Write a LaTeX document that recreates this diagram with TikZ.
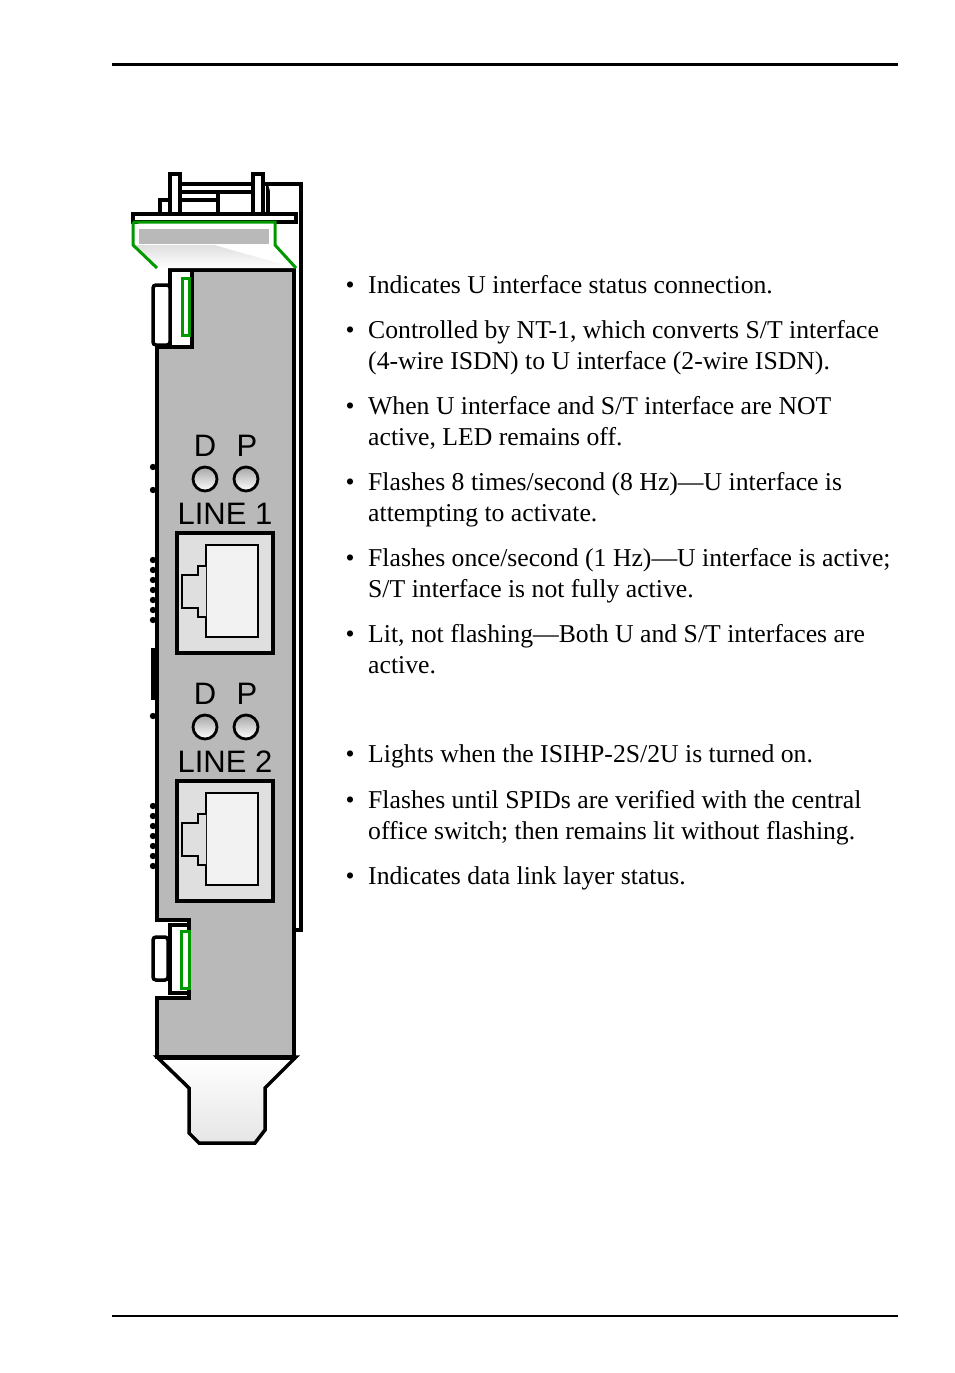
\documentclass[tikz,border=0pt]{standalone}
\usepackage{fontspec}
\setmainfont{Liberation Serif}
\newfontfamily\hv{Liberation Sans}
\begin{document}
\begin{tikzpicture}[x=1pt,y=-1pt,
  txt/.style={anchor=base west,inner sep=0pt,font=\fontsize{25.7}{28}\selectfont},
  bul/.style={anchor=base,inner sep=0pt,font=\fontsize{25.7}{28}\selectfont},
  lbl/.style={inner sep=0pt,font=\hv\fontsize{31}{32}\selectfont},
  ol/.style={draw=black,line width=3.5pt},
  grn/.style={draw=green!60!black,line width=3pt}]
\useasboundingbox (0,0) rectangle (954,1373);
\draw[line width=3pt] (112,64) -- (898,64);
\draw[line width=2pt] (112,1316) -- (898,1316);
% posts and top hardware
\draw[ol,fill=white] (218,184) rectangle (268,214);
\draw[ol,fill=white] (180,184) -- (253,184) -- (253,192) -- (180,192);
\draw[ol,fill=white] (160,200) rectangle (218,214);
\draw[ol,fill=white] (170,174) rectangle (180,214);
\draw[ol,fill=white] (253,174) rectangle (263,214);
% right strip
\draw[ol,fill=white] (268,184) -- (301,184) -- (301,930) -- (293,930) -- (293,270);
% gray board
\draw[ol,fill=gray!55] (192,270) -- (294,270) -- (294,1057) -- (157,1057) -- (157,998) -- (189,998) -- (189,920) -- (157,920) -- (157,347) -- (192,347) -- cycle;
% top connector
\draw[ol,fill=white] (170,270) rectangle (192,347);
\draw[ol,fill=white,rounded corners=3pt] (153,285) rectangle (170,345);
\draw[grn,fill=white] (182,278) rectangle (189,335);
% bottom connector
\draw[ol,fill=white] (170,925) rectangle (189,993);
\draw[ol,fill=white,rounded corners=3pt] (153,937) rectangle (168,980);
\draw[grn,fill=white] (181,931) rectangle (189,988);
% top flange
\draw[ol,fill=white] (133,214) rectangle (296,222);
\shade[top color=gray!25,bottom color=white] (133,245) -- (275,245) -- (296,268) -- (157,268) -- cycle;
\draw[grn,fill=white] (133,222) -- (275,222) -- (275,245) -- (296,268);
\draw[grn] (133,222) -- (133,245) -- (157,268);
\fill[gray!55] (139,229) rectangle (269,244);
% bottom flange
\shade[top color=white,bottom color=gray!20,draw=black,line width=3.5pt] (157,1057) -- (296,1057) -- (265,1088) -- (265,1130) -- (255,1143) -- (199,1143) -- (189,1133) -- (189,1088) -- cycle;
\draw[line width=5pt] (157,1057) -- (296,1057);
% side dots
\foreach \yy in {467,490,560,570,580,590,600,610,620,716,806,816,826,836,846,856,866}
  \fill (153,\yy) circle (3.2);
\draw[ol] (153,648) -- (153,700);
% LEDs and jacks
\foreach \oy/\n in {0/1,248/2}{
  \node[lbl] (d\n) at (205,446+\oy) {D};
  \node[lbl] (p\n) at (247,446+\oy) {P};
  \shade[top color=gray!70,bottom color=white,draw=black,line width=2.8pt] (205,479+\oy) circle (12);
  \shade[top color=gray!70,bottom color=white,draw=black,line width=2.8pt] (246,479+\oy) circle (12);
  \node[lbl] (l\n) at (225,514+\oy) {LINE \n};
  \draw[line width=4pt,fill=gray!25] (177,533+\oy) rectangle (273,653+\oy);
  \draw[line width=2pt,fill=gray!10] (206,545+\oy) rectangle (258,637+\oy);
  \draw[line width=2pt,fill=gray!25] (206,566+\oy) -- (198,566+\oy) -- (198,575+\oy) -- (182,575+\oy) -- (182,608+\oy) -- (198,608+\oy) -- (198,617+\oy) -- (206,617+\oy);
}
% text
\foreach \yy in {285,330,406,482,558,634,754,800,876} \node[bul] at (350,\yy+8) {•};
\node[txt] (t1) at (368,293) {Indicates U interface status connection.};
\node[txt] (t2) at (368,338) {Controlled by NT-1, which converts S/T interface};
\node[txt] (t3) at (368,369) {(4-wire ISDN) to U interface (2-wire ISDN).};
\node[txt] (t4) at (368,414) {When U interface and S/T interface are NOT};
\node[txt] (t5) at (368,445) {active, LED remains off.};
\node[txt] (t6) at (368,490) {Flashes 8 times/second (8 Hz)---U interface is};
\node[txt] (t7) at (368,521) {attempting to activate.};
\node[txt] (t8) at (368,566) {Flashes once/second (1 Hz)---U interface is active;};
\node[txt] (t9) at (368,597) {S/T interface is not fully active.};
\node[txt] (t10) at (368,642) {Lit, not flashing---Both U and S/T interfaces are};
\node[txt] (t11) at (368,673) {active.};
\node[txt] (t12) at (368,762) {Lights when the ISIHP-2S/2U is turned on.};
\node[txt] (t13) at (368,808) {Flashes until SPIDs are verified with the central};
\node[txt] (t14) at (368,839) {office switch; then remains lit without flashing.};
\node[txt] (t15) at (368,884) {Indicates data link layer status.};
\end{tikzpicture}
\end{document}
